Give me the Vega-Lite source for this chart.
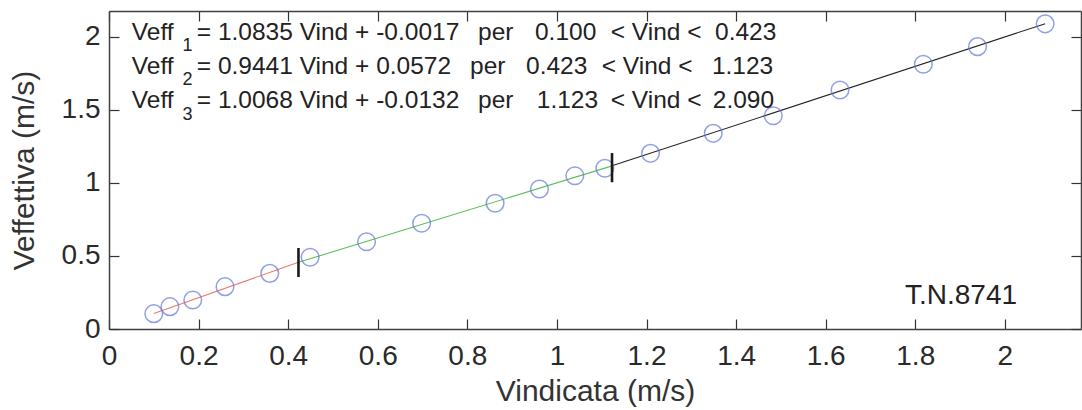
{
  "$schema": "https://vega.github.io/schema/vega-lite/v6.json",
  "width": 972,
  "height": 318,
  "autosize": "none",
  "padding": {"left": 109, "top": 11, "right": 1, "bottom": 81},
  "background": "white",
  "config": {"view": {"stroke": null}, "font": "Liberation Sans"},
  "datasets": {
    "pts": [
      {"x": 0.100, "y": 0.105},
      {"x": 0.136, "y": 0.153},
      {"x": 0.187, "y": 0.199},
      {"x": 0.259, "y": 0.290},
      {"x": 0.359, "y": 0.381},
      {"x": 0.449, "y": 0.491},
      {"x": 0.575, "y": 0.598},
      {"x": 0.698, "y": 0.724},
      {"x": 0.862, "y": 0.861},
      {"x": 0.961, "y": 0.959},
      {"x": 1.040, "y": 1.050},
      {"x": 1.107, "y": 1.101},
      {"x": 1.209, "y": 1.203},
      {"x": 1.349, "y": 1.340},
      {"x": 1.483, "y": 1.461},
      {"x": 1.632, "y": 1.637},
      {"x": 1.818, "y": 1.813},
      {"x": 1.939, "y": 1.934},
      {"x": 2.090, "y": 2.090}
    ],
    "fit": [
      {"seg": "1", "x": 0.100, "y": 0.1067},
      {"seg": "1", "x": 0.423, "y": 0.4566},
      {"seg": "2", "x": 0.423, "y": 0.4565},
      {"seg": "2", "x": 1.123, "y": 1.1174},
      {"seg": "3", "x": 1.123, "y": 1.1175},
      {"seg": "3", "x": 2.090, "y": 2.0910}
    ],
    "breaks": [
      {"x": 0.423, "y": 0.356, "y2": 0.555},
      {"x": 1.123, "y": 1.005, "y2": 1.205}
    ],
    "eq": [
      {"x": 0.051, "y": 2.027, "t": "Veff"},
      {"x": 0.196, "y": 2.027, "t": "= 1.0835 Vind + -0.0017"},
      {"x": 0.824, "y": 2.027, "t": "per"},
      {"x": 0.951, "y": 2.027, "t": "0.100"},
      {"x": 1.120, "y": 2.027, "t": "< Vind <"},
      {"x": 1.353, "y": 2.027, "t": "0.423"},
      {"x": 0.051, "y": 1.795, "t": "Veff"},
      {"x": 0.196, "y": 1.795, "t": "= 0.9441 Vind + 0.0572"},
      {"x": 0.806, "y": 1.795, "t": "per"},
      {"x": 0.931, "y": 1.795, "t": "0.423"},
      {"x": 1.100, "y": 1.795, "t": "< Vind <"},
      {"x": 1.346, "y": 1.795, "t": "1.123"},
      {"x": 0.051, "y": 1.562, "t": "Veff"},
      {"x": 0.196, "y": 1.562, "t": "= 1.0068 Vind + -0.0132"},
      {"x": 0.824, "y": 1.562, "t": "per"},
      {"x": 0.955, "y": 1.562, "t": "1.123"},
      {"x": 1.120, "y": 1.562, "t": "< Vind <"},
      {"x": 1.348, "y": 1.562, "t": "2.090"}
    ],
    "sub": [
      {"x": 0.164, "y": 1.935, "t": "1"},
      {"x": 0.164, "y": 1.702, "t": "2"},
      {"x": 0.164, "y": 1.469, "t": "3"}
    ],
    "tag": [
      {"x": 1.777, "y": 0.226, "t": "T.N.8741"}
    ]
  },
  "layer": [
    {
      "data": {"name": "fit"},
      "mark": {"type": "line", "strokeWidth": 1.1},
      "encoding": {
        "x": {"field": "x", "type": "quantitative", "scale": {"domain": [0, 2.17], "nice": false, "zero": false},
          "axis": {"orient": "top", "values": [0, 0.2, 0.4, 0.6, 0.8, 1, 1.2, 1.4, 1.6, 1.8, 2], "labels": false, "title": null, "grid": false, "tickSize": -10, "tickColor": "#333", "tickWidth": 1.2, "domainColor": "#404040", "domainWidth": 1.5}},
        "y": {"field": "y", "type": "quantitative", "scale": {"domain": [0, 2.178], "nice": false, "zero": false},
          "axis": {"orient": "right", "values": [0, 0.5, 1, 1.5, 2], "labels": false, "title": null, "grid": false, "tickSize": -10, "tickColor": "#333", "tickWidth": 1.2, "domainColor": "#404040", "domainWidth": 1.5}},
        "color": {"field": "seg", "type": "nominal", "scale": {"domain": ["1", "2", "3"], "range": ["#e8786e", "#5cbf5c", "#222222"]}, "legend": null}
      }
    },
    {
      "data": {"name": "pts"},
      "mark": {"type": "point", "shape": "circle", "filled": false, "size": 310, "strokeWidth": 1.5, "color": "#6479d6"},
      "encoding": {
        "x": {"field": "x", "type": "quantitative", "scale": {"domain": [0, 2.17], "nice": false, "zero": false},
          "axis": {"orient": "bottom", "values": [0, 0.2, 0.4, 0.6, 0.8, 1, 1.2, 1.4, 1.6, 1.8, 2], "format": "~g", "grid": false, "tickSize": -10, "tickColor": "#333", "tickWidth": 1.2, "domainColor": "#404040", "domainWidth": 1.5, "labelFont": "Liberation Sans", "labelFontSize": 28, "labelColor": "#2a2a2a", "labelPadding": 23, "labelFlush": false, "labelOverlap": false, "title": "Vindicata (m/s)", "titleFont": "Liberation Sans", "titleFontSize": 30, "titleFontWeight": "normal", "titleColor": "#333", "titleY": 71, "titleBaseline": "alphabetic"}},
        "y": {"field": "y", "type": "quantitative", "scale": {"domain": [0, 2.178], "nice": false, "zero": false},
          "axis": {"orient": "left", "values": [0, 0.5, 1, 1.5, 2], "format": "~g", "grid": false, "tickSize": -10, "tickColor": "#333", "tickWidth": 1.2, "domainColor": "#404040", "domainWidth": 1.5, "labelFont": "Liberation Sans", "labelFontSize": 28, "labelColor": "#2a2a2a", "labelPadding": 19, "labelFlush": false, "labelOverlap": false, "title": "Veffettiva (m/s)", "titleFont": "Liberation Sans", "titleFontSize": 30, "titleFontWeight": "normal", "titleColor": "#333", "titleX": -76, "titleBaseline": "alphabetic"}}
      }
    },
    {
      "data": {"name": "breaks"},
      "mark": {"type": "rule", "strokeWidth": 2.6, "color": "#1a1a1a"},
      "encoding": {
        "x": {"field": "x", "type": "quantitative", "scale": {"domain": [0, 2.17], "nice": false, "zero": false}, "axis": null},
        "y": {"field": "y", "type": "quantitative", "scale": {"domain": [0, 2.178], "nice": false, "zero": false}, "axis": null},
        "y2": {"field": "y2"}
      }
    },
    {
      "data": {"name": "eq"},
      "mark": {"type": "text", "align": "left", "baseline": "middle", "fontSize": 24.5, "font": "Liberation Sans", "color": "#222"},
      "encoding": {
        "x": {"field": "x", "type": "quantitative", "scale": {"domain": [0, 2.17], "nice": false, "zero": false}, "axis": null},
        "y": {"field": "y", "type": "quantitative", "scale": {"domain": [0, 2.178], "nice": false, "zero": false}, "axis": null},
        "text": {"field": "t"}
      }
    },
    {
      "data": {"name": "sub"},
      "mark": {"type": "text", "align": "left", "baseline": "middle", "fontSize": 18, "font": "Liberation Sans", "color": "#222"},
      "encoding": {
        "x": {"field": "x", "type": "quantitative", "scale": {"domain": [0, 2.17], "nice": false, "zero": false}, "axis": null},
        "y": {"field": "y", "type": "quantitative", "scale": {"domain": [0, 2.178], "nice": false, "zero": false}, "axis": null},
        "text": {"field": "t"}
      }
    },
    {
      "data": {"name": "tag"},
      "mark": {"type": "text", "align": "left", "baseline": "middle", "fontSize": 28, "font": "Liberation Sans", "color": "#222"},
      "encoding": {
        "x": {"field": "x", "type": "quantitative", "scale": {"domain": [0, 2.17], "nice": false, "zero": false}, "axis": null},
        "y": {"field": "y", "type": "quantitative", "scale": {"domain": [0, 2.178], "nice": false, "zero": false}, "axis": null},
        "text": {"field": "t"}
      }
    }
  ],
  "resolve": {"axis": {"x": "independent", "y": "independent"}}
}
